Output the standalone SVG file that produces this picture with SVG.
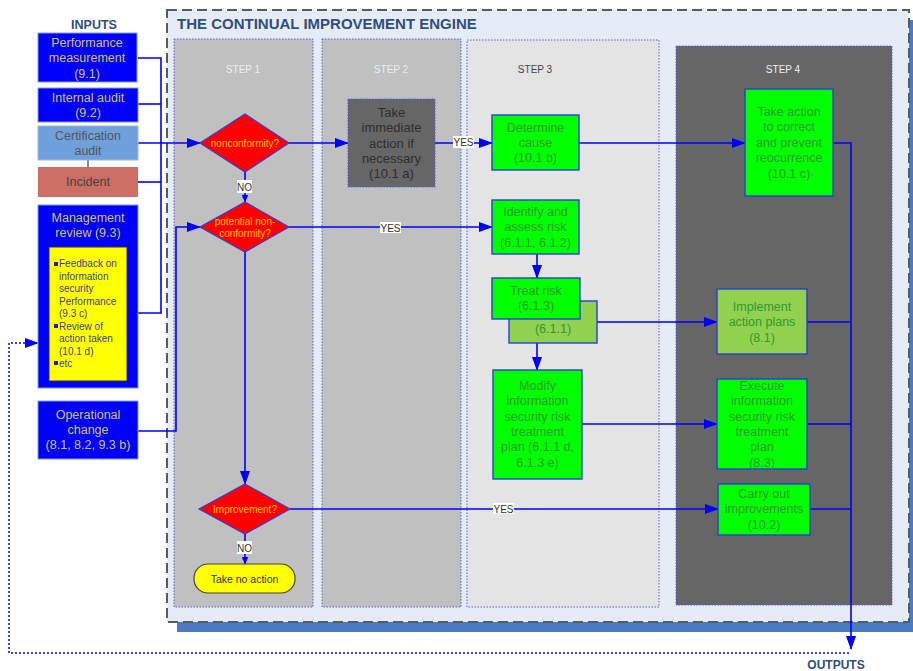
<svg xmlns="http://www.w3.org/2000/svg" width="913" height="671" viewBox="0 0 913 671">
  <style>
    text { font-family: "Liberation Sans", Arial, sans-serif; }
    .inp { fill: #0000ff; stroke: #7d9be0; stroke-width: 1; }
    .t-inp { font-size: 12.5px; fill: #cfc35a; text-anchor: middle; }
    .t-dark { font-size: 12.5px; fill: #555555; text-anchor: middle; }
    .grn { fill: #00ff00; stroke: #2a3fd0; stroke-width: 1.4; }
    .lgrn { fill: #92d050; stroke: #2a3fd0; stroke-width: 1.4; }
    .t-grn { font-size: 12.5px; fill: #2f9a2f; text-anchor: middle; }
    .dia { fill: #ff0000; stroke: #3b3bd0; stroke-width: 1.2; }
    .t-dia { font-size: 10px; fill: #ffc000; text-anchor: middle; }
    .lane { stroke: #5a5af0; stroke-width: 1; stroke-dasharray: 1.5 1.5; }
    .t-step { font-size: 10px; fill: #eeeeee; text-anchor: middle; }
    .t-lbl { font-size: 10px; fill: #333333; text-anchor: middle; }
    .lbl-bg { fill: #ffffff; }
    .t-head { font-weight: bold; fill: #2e4e7e; }
    .wire { stroke: #0000ff; stroke-width: 1.6; fill: none; }
    .feed { stroke: #0000ff; stroke-width: 1.5; fill: none; stroke-dasharray: 2 2; }
    .t-list { font-size: 10px; fill: #3f3f8f; }
  </style>
  <defs>
    <marker id="arr" markerUnits="userSpaceOnUse" markerWidth="14" markerHeight="10" refX="13" refY="5" orient="auto">
      <path d="M0,0 L14,5 L0,10 z" fill="#0000ff"/>
    </marker>
    <marker id="arrS" markerUnits="userSpaceOnUse" markerWidth="8" markerHeight="7" refX="7.5" refY="3.5" orient="auto">
      <path d="M0,0 L8,3.5 L0,7 z" fill="#0000ff"/>
    </marker>
  </defs>

  <rect width="913" height="671" fill="#ffffff"/>

  <!-- engine frame with offset shadow -->
  <g id="engine">
    <rect x="177" y="20" width="736" height="612" fill="#4a7abf"/>
    <rect x="167" y="10" width="742" height="612" fill="#e6ecf7" stroke="#5a5a5a" stroke-width="2" stroke-dasharray="10 5"/>
    <text x="177" y="29" class="t-head" font-size="15">THE CONTINUAL IMPROVEMENT ENGINE</text>
  </g>

  <!-- step lanes -->
  <g id="lanes">
    <rect class="lane" x="174" y="39" width="139" height="568" fill="#c0c0c0"/>
    <text class="t-step" x="243" y="73">STEP 1</text>
    <rect class="lane" x="322" y="39" width="139" height="568" fill="#c0c0c0"/>
    <text class="t-step" x="391" y="73">STEP 2</text>
    <rect class="lane" x="467" y="40" width="192" height="567" fill="#e4e4e4"/>
    <text class="t-step" x="535" y="73" style="fill:#444444">STEP 3</text>
    <rect class="lane" x="676" y="46" width="216" height="559" fill="#666666"/>
    <text class="t-step" x="783" y="73">STEP 4</text>
  </g>

  <!-- headings -->
  <text class="t-head" x="94" y="29" font-size="12.5" text-anchor="middle">INPUTS</text>
  <text class="t-head" x="836" y="669" font-size="12" text-anchor="middle">OUTPUTS</text>

  <!-- connectors -->
  <g id="connectors">
    <!-- input bus -->
    <polyline class="wire" points="138,58 161,58 161,313 138,313"/>
    <line class="wire" x1="138" y1="104" x2="161" y2="104"/>
    <line class="wire" x1="138" y1="182" x2="161" y2="182"/>
    <line class="wire" x1="138" y1="143" x2="200" y2="143" marker-end="url(#arr)"/>
    <polyline class="wire" points="138,431 176,431 176,227 200,227" marker-end="url(#arr)"/>
    <line x1="88" y1="160" x2="88" y2="167" stroke="#666666" stroke-width="1.5"/>
    <line x1="88" y1="237" x2="88" y2="247" stroke="#333333" stroke-width="1.2"/>

    <!-- step 1 decisions -->
    <line class="wire" x1="245" y1="172" x2="245" y2="202" marker-end="url(#arrS)"/>
    <line class="wire" x1="245" y1="252" x2="245" y2="484" marker-end="url(#arr)"/>
    <line class="wire" x1="245" y1="534" x2="245" y2="564" marker-end="url(#arrS)"/>

    <line class="wire" x1="289" y1="143" x2="348" y2="143" marker-end="url(#arr)"/>
    <line class="wire" x1="435" y1="143" x2="492" y2="143" marker-end="url(#arr)"/>
    <line class="wire" x1="579" y1="143" x2="745" y2="143" marker-end="url(#arr)"/>

    <line class="wire" x1="289" y1="227" x2="492" y2="227" marker-end="url(#arr)"/>
    <line class="wire" x1="537" y1="254" x2="537" y2="278" marker-end="url(#arr)"/>
    <line class="wire" x1="537" y1="343" x2="537" y2="370" marker-end="url(#arr)"/>
    <line class="wire" x1="597" y1="322" x2="717" y2="322" marker-end="url(#arr)"/>
    <line class="wire" x1="582" y1="424" x2="717" y2="424" marker-end="url(#arr)"/>
    <line class="wire" x1="290" y1="509" x2="718" y2="509" marker-end="url(#arr)"/>

    <!-- output bus -->
    <polyline class="wire" points="833,143 851,143 851,649" marker-end="url(#arr)"/>
    <line class="wire" x1="807" y1="322" x2="851" y2="322"/>
    <line class="wire" x1="807" y1="424" x2="851" y2="424"/>
    <line class="wire" x1="810" y1="509" x2="851" y2="509"/>

    <!-- feedback loop -->
    <polyline class="feed" points="849,653 9,653 9,343 38,343" marker-end="url(#arr)"/>

    <!-- branch labels -->
    <rect class="lbl-bg" x="237" y="180" width="15" height="13"/>
    <text class="t-lbl" x="244.5" y="190.5">NO</text>
    <rect class="lbl-bg" x="453" y="136" width="21" height="12"/>
    <text class="t-lbl" x="463.5" y="146">YES</text>
    <rect class="lbl-bg" x="380" y="222" width="21" height="11"/>
    <text class="t-lbl" x="390.5" y="231.5">YES</text>
    <rect class="lbl-bg" x="493" y="503" width="21" height="11"/>
    <text class="t-lbl" x="503.5" y="512.5">YES</text>
    <rect class="lbl-bg" x="237" y="541" width="15" height="13"/>
    <text class="t-lbl" x="244.5" y="551.5">NO</text>
  </g>

  <!-- inputs -->
  <g id="perf-measurement">
    <rect class="inp" x="38" y="33" width="99" height="49"/>
    <text class="t-inp" x="87" y="46.5">Performance</text>
    <text class="t-inp" x="87" y="62">measurement</text>
    <text class="t-inp" x="87" y="77.5">(9.1)</text>
  </g>
  <g id="internal-audit">
    <rect class="inp" x="38" y="88" width="100" height="34"/>
    <text class="t-inp" x="88" y="101.5">Internal audit</text>
    <text class="t-inp" x="88" y="116.5">(9.2)</text>
  </g>
  <g id="certification-audit">
    <rect x="38" y="126" width="100" height="34" fill="#6fa0dc" stroke="#9bb8e6" stroke-width="1"/>
    <text class="t-dark" x="88" y="139.5">Certification</text>
    <text class="t-dark" x="88" y="154.5">audit</text>
  </g>
  <g id="incident">
    <rect x="38" y="167" width="100" height="30" fill="#cc6d66"/>
    <text class="t-dark" x="88" y="186" style="fill:#444444">Incident</text>
  </g>
  <g id="management-review">
    <rect class="inp" x="38" y="205" width="100" height="183"/>
    <text class="t-inp" x="88" y="221.5">Management</text>
    <text class="t-inp" x="88" y="237">review (9.3)</text>
    <rect x="49" y="247" width="78" height="134" fill="#ffff00" stroke="#333333" stroke-width="1"/>
    <rect x="54" y="262" width="4" height="4" fill="#2020c0"/>
    <text class="t-list" x="59" y="267">Feedback on</text>
    <text class="t-list" x="59" y="279.5">information</text>
    <text class="t-list" x="59" y="292">security</text>
    <text class="t-list" x="59" y="304.5">Performance</text>
    <text class="t-list" x="59" y="317">(9.3 c)</text>
    <rect x="54" y="324" width="4" height="4" fill="#2020c0"/>
    <text class="t-list" x="59" y="329.5">Review of</text>
    <text class="t-list" x="59" y="342">action taken</text>
    <text class="t-list" x="59" y="354.5">(10.1 d)</text>
    <rect x="54" y="361" width="4" height="4" fill="#2020c0"/>
    <text class="t-list" x="59" y="367">etc</text>
  </g>
  <g id="operational-change">
    <rect class="inp" x="38" y="401" width="100" height="58"/>
    <text class="t-inp" x="88" y="418.5">Operational</text>
    <text class="t-inp" x="88" y="434">change</text>
    <text class="t-inp" x="88" y="449">(8.1, 8.2, 9.3 b)</text>
  </g>

  <!-- step 1 -->
  <g id="nonconformity">
    <polygon class="dia" points="245,114 289,143 245,172 200,143"/>
    <text class="t-dia" x="245" y="146.5">nonconformity?</text>
  </g>
  <g id="potential-nonconformity">
    <polygon class="dia" points="245,202 289,227 245,252 200,227"/>
    <text class="t-dia" x="245" y="224.5">potential non-</text>
    <text class="t-dia" x="245" y="236.5">conformity?</text>
  </g>
  <g id="improvement">
    <polygon class="dia" points="245,484 290,509 245,534 199,509"/>
    <text class="t-dia" x="245" y="512.5">Improvement?</text>
  </g>
  <g id="take-no-action">
    <rect x="194" y="564" width="101" height="29" rx="14" fill="#ffff00" stroke="#444444" stroke-width="1.2"/>
    <text x="244.5" y="582.5" font-size="10.5" fill="#333333" text-anchor="middle">Take no action</text>
  </g>

  <!-- step 2 -->
  <g id="immediate-action">
    <rect x="348" y="99" width="87" height="88" fill="#666666" stroke="#5a5af0" stroke-width="1.2" stroke-dasharray="1.5 1.5"/>
    <text x="391.5" y="116.5" font-size="13" fill="#2e2e2e" text-anchor="middle">Take</text>
    <text x="391.5" y="131.5" font-size="13" fill="#2e2e2e" text-anchor="middle">immediate</text>
    <text x="391.5" y="147.5" font-size="13" fill="#2e2e2e" text-anchor="middle">action if</text>
    <text x="391.5" y="162.5" font-size="13" fill="#2e2e2e" text-anchor="middle">necessary</text>
    <text x="391.5" y="177.5" font-size="13" fill="#2e2e2e" text-anchor="middle">(10.1 a)</text>
  </g>

  <!-- step 3 -->
  <g id="determine-cause">
    <rect class="grn" x="492" y="115" width="87" height="55"/>
    <text class="t-grn" x="535.5" y="131.5">Determine</text>
    <text class="t-grn" x="535.5" y="146.5">cause</text>
    <text class="t-grn" x="535.5" y="161.5">(10.1 b)</text>
  </g>
  <g id="identify-risk">
    <rect class="grn" x="492" y="200" width="87" height="54"/>
    <text class="t-grn" x="535.5" y="215.5">Identify and</text>
    <text class="t-grn" x="535.5" y="230.5">assess risk</text>
    <text class="t-grn" x="535.5" y="246.5">(6.1.1, 6.1.2)</text>
  </g>
  <g id="risk-plan">
    <rect class="lgrn" x="509" y="301" width="88" height="42"/>
    <text class="t-grn" x="553" y="332.5">(6.1.1)</text>
  </g>
  <g id="treat-risk">
    <rect class="grn" x="492" y="278" width="88" height="41"/>
    <text class="t-grn" x="536" y="294.5">Treat risk</text>
    <text class="t-grn" x="536" y="310">(6.1.3)</text>
  </g>
  <g id="modify-plan">
    <rect class="grn" x="493" y="370" width="89" height="109"/>
    <text class="t-grn" x="537.5" y="389.5">Modify</text>
    <text class="t-grn" x="537.5" y="405">information</text>
    <text class="t-grn" x="537.5" y="420.5">security risk</text>
    <text class="t-grn" x="537.5" y="435.5">treatment</text>
    <text class="t-grn" x="537.5" y="451">plan (6.1.1 d,</text>
    <text class="t-grn" x="537.5" y="466.5">6.1.3 e)</text>
  </g>

  <!-- step 4 -->
  <g id="corrective-action">
    <rect class="grn" x="745" y="89" width="88" height="107"/>
    <text class="t-grn" x="789" y="115.5">Take action</text>
    <text class="t-grn" x="789" y="131">to correct</text>
    <text class="t-grn" x="789" y="146.5">and prevent</text>
    <text class="t-grn" x="789" y="161.5">reocurrence</text>
    <text class="t-grn" x="789" y="177.5">(10.1 c)</text>
  </g>
  <g id="implement-plans">
    <rect class="lgrn" x="717" y="289" width="90" height="65"/>
    <text class="t-grn" x="762" y="310.5">Implement</text>
    <text class="t-grn" x="762" y="325.5">action plans</text>
    <text class="t-grn" x="762" y="341.5">(8.1)</text>
  </g>
  <g id="execute-plan">
    <rect class="grn" x="717" y="379" width="90" height="90"/>
    <text class="t-grn" x="762" y="389.5">Execute</text>
    <text class="t-grn" x="762" y="405">information</text>
    <text class="t-grn" x="762" y="420.5">security risk</text>
    <text class="t-grn" x="762" y="435.5">treatment</text>
    <text class="t-grn" x="762" y="451">plan</text>
    <text class="t-grn" x="762" y="466.5">(8.3)</text>
  </g>
  <g id="carry-out">
    <rect class="grn" x="718" y="484" width="92" height="51"/>
    <text class="t-grn" x="764" y="497.5">Carry out</text>
    <text class="t-grn" x="764" y="512.5">improvements</text>
    <text class="t-grn" x="764" y="528.5">(10.2)</text>
  </g>
</svg>
